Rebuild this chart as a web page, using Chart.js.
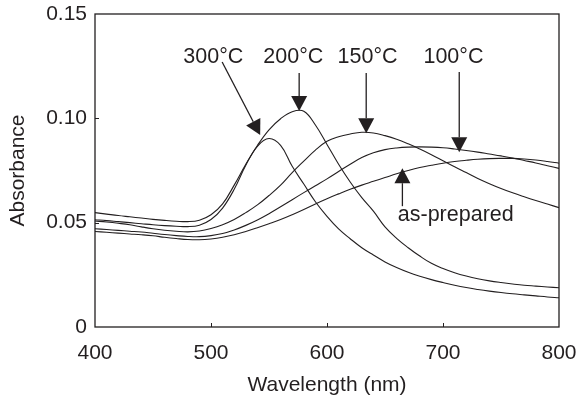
<!DOCTYPE html>
<html>
<head>
<meta charset="utf-8">
<script src="https://cdn.jsdelivr.net/npm/chart.js@4.4.1/dist/chart.umd.min.js"></script>
<style>
    html, body { margin: 0; padding: 0; background: #fff; }
</style>
</head>
<body>
<canvas id="myChart" width="578" height="398"></canvas>
<script>
// wavelength grid (nm), read every 10 nm
const wavelengths = [400, 410, 420, 430, 440, 450, 460, 470, 480, 490,
    500, 510, 520, 530, 540, 550, 560, 570, 580, 590,
    600, 610, 620, 630, 640, 650, 660, 670, 680, 690,
    700, 710, 720, 730, 740, 750, 760, 770, 780, 790, 800];

const abs300 = [0.0514, 0.0510, 0.0505, 0.0500, 0.0495, 0.0490, 0.0486, 0.0483, 0.0481, 0.0488,
    0.0515, 0.0570, 0.0660, 0.0775, 0.0866, 0.0903, 0.0870, 0.0770, 0.0685, 0.0600,
    0.0530, 0.0470, 0.0423, 0.0380, 0.0345, 0.0312, 0.0285, 0.0262, 0.0243, 0.0227,
    0.0213, 0.0200, 0.0189, 0.0180, 0.0172, 0.0165, 0.0159, 0.0154, 0.0149, 0.0144, 0.0140];

const abs200 = [0.0548, 0.0541, 0.0534, 0.0528, 0.0522, 0.0516, 0.0511, 0.0507, 0.0505, 0.0512,
    0.0538, 0.0590, 0.0680, 0.0780, 0.0870, 0.0945, 0.0998, 0.1032, 0.1034, 0.0968,
    0.0875, 0.0780, 0.0695, 0.0620, 0.0555, 0.0480, 0.0425, 0.0380, 0.0340, 0.0305,
    0.0280, 0.0260, 0.0244, 0.0231, 0.0221, 0.0213, 0.0206, 0.0200, 0.0196, 0.0192, 0.0188];

const abs150 = [0.0508, 0.0503, 0.0497, 0.0490, 0.0480, 0.0471, 0.0464, 0.0459, 0.0456, 0.0460,
    0.0472, 0.0490, 0.0515, 0.0548, 0.0585, 0.0630, 0.0680, 0.0740, 0.0795, 0.0848,
    0.0890, 0.0912, 0.0925, 0.0933, 0.0930, 0.0917, 0.0900, 0.0878, 0.0853, 0.0826,
    0.0797, 0.0768, 0.0740, 0.0712, 0.0687, 0.0664, 0.0643, 0.0624, 0.0606, 0.0589, 0.0572];

const abs100 = [0.0471, 0.0467, 0.0463, 0.0459, 0.0455, 0.0449, 0.0443, 0.0438, 0.0434, 0.0433,
    0.0438, 0.0448, 0.0465, 0.0487, 0.0513, 0.0543, 0.0576, 0.0610, 0.0644, 0.0677,
    0.0710, 0.0745, 0.0780, 0.0812, 0.0835, 0.0850, 0.0858, 0.0862, 0.0863, 0.0862,
    0.0859, 0.0853, 0.0846, 0.0838, 0.0829, 0.0820, 0.0810, 0.0798, 0.0786, 0.0773, 0.0760];

const absPrepared = [0.0458, 0.0454, 0.0450, 0.0446, 0.0442, 0.0437, 0.0430, 0.0424, 0.0419, 0.0418,
    0.0422, 0.0430, 0.0442, 0.0458, 0.0476, 0.0495, 0.0515, 0.0538, 0.0563, 0.0590,
    0.0615, 0.0638, 0.0660, 0.0680, 0.0698, 0.0716, 0.0734, 0.0750, 0.0764, 0.0775,
    0.0785, 0.0793, 0.0799, 0.0804, 0.0807, 0.0808, 0.0808, 0.0805, 0.0800, 0.0793, 0.0785];

const xTicks = [400, 500, 600, 700, 800];
const yTicks = [0, 0.05, 0.10, 0.15];

// annotation labels and arrows, in data units (nm, absorbance)
const noteText = ['300°C', '200°C', '150°C', '100°C', 'as-prepared'];
const noteAt = [[502, 0.1294], [571, 0.1294], [635, 0.1294], [709, 0.1294], [711, 0.0536]];
const arrowFrom = [[509.6, 0.1270], [576, 0.1217], [633.8, 0.1217], [714, 0.1222], [665, 0.0579]];
const arrowTo = [[542.4, 0.0920], [576, 0.1035], [633.8, 0.0929], [714, 0.0838], [665, 0.0761]];

const ink = '#231f20';
const fontFamily = '"Liberation Sans", Arial, Helvetica, sans-serif';

function toPoints(values) {
    return values.map((v, i) => ({ x: wavelengths[i], y: v }));
}

const series = [abs300, abs200, abs150, abs100, absPrepared];

const datasets = series.map((values, i) => ({
    label: noteText[i],
    data: toPoints(values),
    borderColor: ink,
    borderWidth: 1.1,
    pointRadius: 0,
    fill: false,
    tension: 0.4
}));

// frame, inward ticks, arrows and labels
const framePlugin = {
    id: 'frame',
    afterDatasetsDraw(chart) {
        const ctx = chart.ctx;
        const area = chart.chartArea;
        const xs = chart.scales.x;
        const ys = chart.scales.y;
        ctx.save();
        ctx.strokeStyle = ink;
        ctx.lineWidth = 1.3;
        ctx.strokeRect(area.left, area.top, area.right - area.left, area.bottom - area.top);

        ctx.lineWidth = 1;
        ctx.beginPath();
        xTicks.slice(1, -1).forEach(t => {
            const px = Math.round(xs.getPixelForValue(t)) + 0.5;
            ctx.moveTo(px, area.bottom);
            ctx.lineTo(px, area.bottom - 4);
        });
        yTicks.slice(1, -1).forEach(t => {
            const py = Math.round(ys.getPixelForValue(t)) + 0.5;
            ctx.moveTo(area.left, py);
            ctx.lineTo(area.left + 4, py);
        });
        ctx.stroke();

        // arrows
        ctx.fillStyle = ink;
        ctx.lineWidth = 1.3;
        arrowFrom.forEach((from, i) => {
            const x0 = xs.getPixelForValue(from[0]);
            const y0 = ys.getPixelForValue(from[1]);
            const x1 = xs.getPixelForValue(arrowTo[i][0]);
            const y1 = ys.getPixelForValue(arrowTo[i][1]);
            const ang = Math.atan2(y1 - y0, x1 - x0);
            const headLen = 15;
            const headHalf = 8;
            const bx = x1 - headLen * Math.cos(ang);
            const by = y1 - headLen * Math.sin(ang);
            ctx.beginPath();
            ctx.moveTo(x0, y0);
            ctx.lineTo(bx, by);
            ctx.stroke();
            ctx.beginPath();
            ctx.moveTo(x1, y1);
            ctx.lineTo(bx + headHalf * Math.sin(ang), by - headHalf * Math.cos(ang));
            ctx.lineTo(bx - headHalf * Math.sin(ang), by + headHalf * Math.cos(ang));
            ctx.closePath();
            ctx.fill();
        });

        // labels
        ctx.font = '21.5px ' + fontFamily;
        ctx.textAlign = 'center';
        ctx.textBaseline = 'middle';
        noteText.forEach((txt, i) => {
            ctx.fillText(txt, xs.getPixelForValue(noteAt[i][0]), ys.getPixelForValue(noteAt[i][1]));
        });
        ctx.restore();
    }
};

const ctx = document.getElementById('myChart').getContext('2d');

new Chart(ctx, {
    type: 'line',
    data: { datasets: datasets },
    options: {
        responsive: false,
        animation: false,
        layout: { padding: { top: 14, right: 19, bottom: 0, left: 0 } },
        plugins: {
            legend: { display: false },
            tooltip: { enabled: false }
        },
        scales: {
            x: {
                type: 'linear',
                min: 400,
                max: 800,
                afterBuildTicks: s => { s.ticks = xTicks.map(v => ({ value: v })); },
                afterFit: s => {
                    s.height = 71;
                    s.paddingLeft = 0;
                    s.paddingRight = 0;
                },
                grid: { drawOnChartArea: false, drawTicks: false },
                border: { display: false },
                ticks: {
                    padding: 14,
                    color: ink,
                    maxRotation: 0,
                    font: { family: fontFamily, size: 21 }
                },
                title: {
                    display: true,
                    text: 'Wavelength (nm)',
                    color: ink,
                    padding: { top: 0, bottom: 0 },
                    font: { family: fontFamily, size: 21 }
                }
            },
            y: {
                type: 'linear',
                min: 0,
                max: 0.15,
                afterBuildTicks: s => { s.ticks = yTicks.map(v => ({ value: v })); },
                afterFit: s => {
                    s.width = 95;
                    s.paddingTop = 0;
                    s.paddingBottom = 0;
                },
                grid: { drawOnChartArea: false, drawTicks: false },
                border: { display: false },
                ticks: {
                    padding: 8,
                    color: ink,
                    font: { family: fontFamily, size: 21 },
                    callback: v => v === 0 ? '0' : v.toFixed(2)
                },
                title: {
                    display: true,
                    text: 'Absorbance',
                    color: ink,
                    padding: { top: 6, bottom: 0 },
                    font: { family: fontFamily, size: 21 }
                }
            }
        }
    },
    plugins: [framePlugin]
});
</script>
</body>
</html>
